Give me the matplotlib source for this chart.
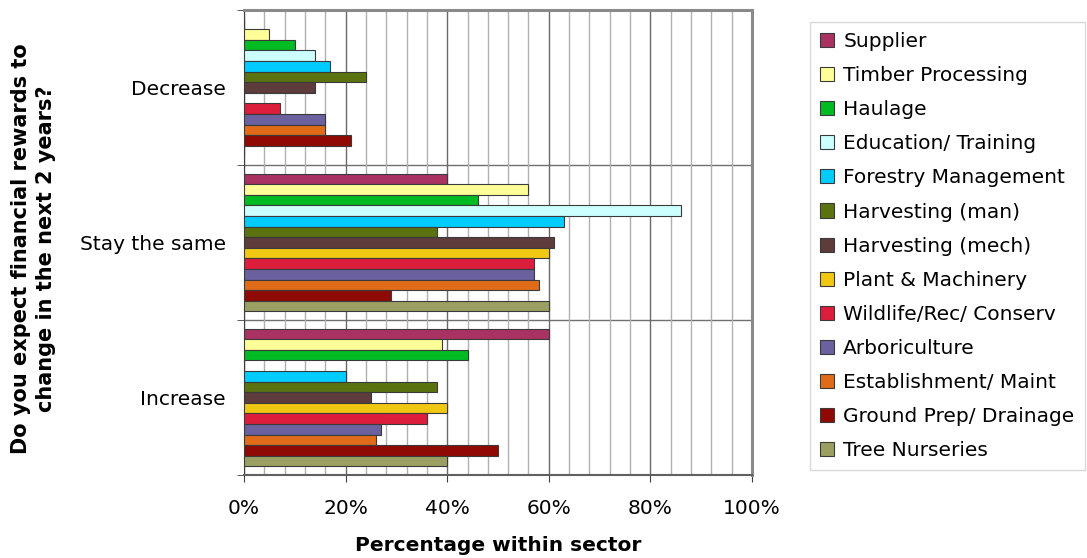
import numpy as np
import matplotlib.pyplot as plt
from matplotlib.ticker import MultipleLocator, PercentFormatter

categories = ["Decrease", "Stay the same", "Increase"]
sectors = ["Supplier", "Timber Processing", "Haulage", "Education/ Training",
           "Forestry Management", "Harvesting (man)", "Harvesting (mech)",
           "Plant & Machinery", "Wildlife/Rec/ Conserv", "Arboriculture",
           "Establishment/ Maint", "Ground Prep/ Drainage", "Tree Nurseries"]
colors = ["#A93263", "#FFFF99", "#00BB22", "#CCFFFF", "#00CCFF", "#5A7310",
          "#5E3C3C", "#F0C814", "#DC1E3C", "#6A619E", "#E06C1A", "#900A05",
          "#9BA062"]

# percentage of each sector per answer (Decrease, Stay the same, Increase)
supplier = [0, 40, 60]
timber = [5, 56, 39]
haulage = [10, 46, 44]
education = [14, 86, 0]
forestry = [17, 63, 20]
harv_man = [24, 38, 38]
harv_mech = [14, 61, 25]
plant = [0, 60, 40]
wildlife = [7, 57, 36]
arbor = [16, 57, 27]
establish = [16, 58, 26]
ground_prep = [21, 29, 50]
nurseries = [0, 60, 40]
values = [supplier, timber, haulage, education, forestry, harv_man, harv_mech,
          plant, wildlife, arbor, establish, ground_prep, nurseries]

fig = plt.figure(figsize=(10.87, 5.58), dpi=100)
ax = fig.add_axes([244 / 1087, 1 - 475 / 558, 508 / 1087, 465 / 558])

n = len(sectors)
group = 0.89
h = group / n
y0 = np.arange(len(categories))
for i, (name, col, vals) in enumerate(zip(sectors, colors, values)):
    ypos = y0 - group / 2 + h * (i + 0.5)
    ax.barh(ypos, vals, height=h, color=col, edgecolor="#3a3a3a",
            linewidth=0.8, label=name, zorder=3)

ax.set_xlim(0, 100)
ax.set_ylim(2.5, -0.5)

# vertical grid: light every 4%, darker every 20%
ax.xaxis.set_major_locator(MultipleLocator(20))
ax.xaxis.set_minor_locator(MultipleLocator(4))
ax.xaxis.set_major_formatter(PercentFormatter(decimals=0))
ax.grid(axis="x", which="minor", color="#b0b0b0", linewidth=1.0, zorder=0)
ax.grid(axis="x", which="major", color="#6a6a6a", linewidth=1.0, zorder=0)
for yb in [0.5, 1.5]:
    ax.axhline(yb, color="#707070", linewidth=1.0, zorder=1)

ax.set_yticks(y0)
ax.set_yticklabels(categories, fontsize=14.5)
ax.set_yticks([-0.5, 0.5, 1.5, 2.5], minor=True)
ax.tick_params(axis="y", which="major", length=0, pad=13)
ax.tick_params(axis="y", which="minor", length=5, color="#404040")
ax.tick_params(axis="x", which="major", length=5, labelsize=14.5, pad=12,
               color="#404040")
ax.tick_params(axis="x", which="minor", length=0)

for side in ["top", "right"]:
    ax.spines[side].set_color("#8a8a8a")
    ax.spines[side].set_linewidth(2.2)
ax.spines["left"].set_color("#404040")
ax.spines["bottom"].set_color("#606060")
ax.spines["bottom"].set_linewidth(1.5)

ax.set_xlabel("Percentage within sector", fontsize=14.5, fontweight="bold",
              labelpad=13)
fig.text(0.031, 0.555, "Do you expect financial rewards to\nchange in the next 2 years?",
         rotation=90, ha="center", va="center", fontsize=15,
         fontweight="bold", linespacing=1.3)

leg = fig.legend(loc="upper left", bbox_to_anchor=(810 / 1087, 1 - 22 / 558),
                 fontsize=14.5, frameon=True, fancybox=False, handlelength=0.7,
                 handleheight=0.7, handletextpad=0.45, labelspacing=0.75,
                 borderpad=0.5, borderaxespad=0)
leg.get_frame().set_edgecolor("#d0d0d0")
leg.get_frame().set_linewidth(1.0)

fig.savefig("out.png", dpi=100)
